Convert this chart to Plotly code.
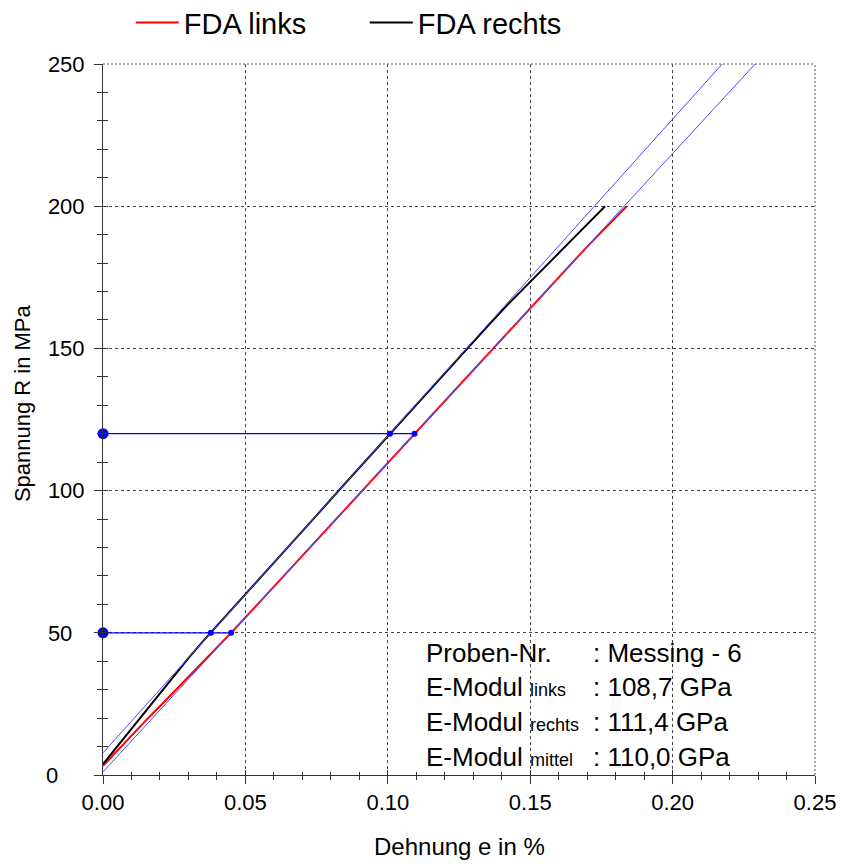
import plotly.graph_objects as go

# ---------------- data ----------------
red_x = [0.0000, 0.0050, 0.0100, 0.0150, 0.0200, 0.0250, 0.0300, 0.0350, 0.0400, 0.0452,
         0.0550, 0.0650, 0.0750, 0.0850, 0.0950, 0.1050, 0.1101, 0.1200, 0.1300, 0.1376,
         0.1450, 0.1500, 0.1600, 0.1700, 0.1800, 0.1839]
red_y = [3.2, 8.6, 13.9, 19.1, 24.2, 29.3, 34.4, 39.6, 44.8, 50.2,
         60.8, 71.7, 82.6, 93.4, 104.3, 115.2, 120.6, 131.4, 142.3, 150.5,
         158.6, 164.0, 174.9, 185.8, 196.0, 200.0]

black_x = [0.0000, 0.0050, 0.0100, 0.0150, 0.0200, 0.0250, 0.0300, 0.0350, 0.0380, 0.0450,
           0.0550, 0.0650, 0.0750, 0.0850, 0.0950, 0.1005, 0.1100, 0.1200, 0.1277, 0.1350,
           0.1420, 0.1500, 0.1600, 0.1700, 0.1763]
black_y = [3.8, 10.0, 16.2, 22.4, 28.7, 35.0, 41.1, 46.9, 50.2, 57.9,
           69.0, 80.2, 91.3, 102.5, 113.6, 119.8, 130.3, 141.5, 150.0, 157.8,
           165.3, 173.3, 183.5, 193.6, 200.0]

# regression lines: stress = intercept + slope * strain  (MPa, %)
fit_links_intercept = 1.1
fit_links_slope = 1087.0
fit_rechts_intercept = 7.8
fit_rechts_slope = 1114.0

stress_levels = [50, 120]          # evaluation stresses (MPa)

x_ticks = [0.00, 0.05, 0.10, 0.15, 0.20, 0.25]
y_ticks = [0, 50, 100, 150, 200, 250]
y_tick_text = ["0\u2002\u2002\u2009", "50\u2007", "100", "150", "200", "250"]

legend_names = ["FDA links", "FDA rechts"]
SUB = '<span style="font-size:18px">{}</span>'
info_labels = ["Proben-Nr.", "E-Modul " + SUB.format("links"), "E-Modul " + SUB.format("rechts"),
               "E-Modul " + SUB.format("mittel")]
info_values = [": Messing - 6", ": 108,7 GPa", ": 111,4 GPa", ": 110,0 GPa"]

X_MAX = 0.25
Y_MAX = 250

FONT = "Liberation Sans, Arial, sans-serif"
AXC = "#333333"

fig = go.Figure()

fig.add_trace(go.Scatter(x=red_x, y=red_y, mode="lines", name=legend_names[0],
                         line=dict(color="#ff0000", width=2)))
fig.add_trace(go.Scatter(x=black_x, y=black_y, mode="lines", name=legend_names[1],
                         line=dict(color="#000000", width=2)))

# fitted straight lines up to the top of the plot
for b, m in [(fit_links_intercept, fit_links_slope), (fit_rechts_intercept, fit_rechts_slope)]:
    x_end = (Y_MAX - b) / m
    fig.add_trace(go.Scatter(x=[0, x_end], y=[b, Y_MAX], mode="lines", showlegend=False,
                             line=dict(color="#4a4aff", width=1), hoverinfo="skip"))

# horizontal evaluation lines and markers
for s in stress_levels:
    x_l = (s - fit_links_intercept) / fit_links_slope
    x_r = (s - fit_rechts_intercept) / fit_rechts_slope
    fig.add_trace(go.Scatter(x=[0, x_l], y=[s, s], mode="lines", showlegend=False,
                             line=dict(color="#0000ff", width=1.3)))
    fig.add_trace(go.Scatter(x=[x_r, x_l], y=[s, s], mode="markers", showlegend=False,
                             marker=dict(color="#0000ff", size=6)))
    fig.add_trace(go.Scatter(x=[0], y=[s], mode="markers", showlegend=False,
                             marker=dict(color="#0000ff", size=11), cliponaxis=False))

# empty trace for overlay axes (inside tick marks)
fig.add_trace(go.Scatter(x=[None], y=[None], xaxis="x2", yaxis="y2", showlegend=False,
                         mode="lines", hoverinfo="skip"))

# info text block
line_y = [48.9, 36.9, 24.6, 12.4]
for lab, val, yy in zip(info_labels, info_values, line_y):
    fig.add_annotation(x=0.1128, y=yy, xref="x", yref="y", text=lab, showarrow=False,
                       xanchor="left", yanchor="top", font=dict(family=FONT, size=26, color="black"))
    fig.add_annotation(x=0.1715, y=yy, xref="x", yref="y", text=val, showarrow=False,
                       xanchor="left", yanchor="top", font=dict(family=FONT, size=26, color="black"))

# axis titles
fig.add_annotation(x=0.5, y=-0.101, xref="paper", yref="paper", text="Dehnung e in %",
                   showarrow=False, xanchor="center", yanchor="middle",
                   font=dict(family=FONT, size=24, color="black"))
fig.add_annotation(x=-0.1138, y=0.523, xref="paper", yref="paper", text="Spannung R in MPa",
                   showarrow=False, xanchor="center", yanchor="middle", textangle=-90,
                   font=dict(family=FONT, size=22, color="black"))

# dotted top / right frame
fig.add_shape(type="line", xref="paper", yref="paper", x0=0, x1=1, y0=1, y1=1,
              line=dict(color="#555555", width=1, dash="2px,2px"))
fig.add_shape(type="line", xref="paper", yref="paper", x0=1, x1=1, y0=0, y1=1,
              line=dict(color="#555555", width=1, dash="2px,2px"))

grid = dict(showgrid=True, gridcolor="#444444", gridwidth=1, griddash="3px,3px")

fig.update_layout(
    width=843, height=867,
    margin=dict(l=103, r=28, t=64, b=92, autoexpand=False),
    paper_bgcolor="white", plot_bgcolor="white",
    font=dict(family=FONT, size=22, color="black"),
    showlegend=True,
    legend=dict(orientation="h", x=0.039, y=1.058, xanchor="left", yanchor="middle",
                font=dict(family=FONT, size=29, color="black"),
                entrywidthmode="pixels", entrywidth=176, itemwidth=43,
                bgcolor="rgba(0,0,0,0)"),
    xaxis=dict(range=[0, X_MAX], tickvals=x_ticks, tickformat=".2f",
               ticks="outside", ticklen=8, tickcolor=AXC, tickwidth=1,
               showline=True, linecolor=AXC, linewidth=1, zeroline=False,
               minor=dict(dtick=0.01, ticks="outside", ticklen=4, tickcolor=AXC, showgrid=False),
               tickfont=dict(family=FONT, size=22, color="black"),
               **grid),
    yaxis=dict(range=[0, Y_MAX], tickvals=y_ticks, ticktext=y_tick_text,
               ticks="outside", ticklen=8, tickcolor=AXC, tickwidth=1,
               showline=True, linecolor=AXC, linewidth=1, zeroline=False,
               minor=dict(dtick=10, ticks="outside", ticklen=5, tickcolor=AXC, showgrid=False),
               tickfont=dict(family=FONT, size=22, color="black"),
               ticklabelstandoff=5,
               **grid),
    xaxis2=dict(range=[0, X_MAX], overlaying="x", anchor="y2", side="bottom",
                tickvals=x_ticks, ticks="inside", ticklen=5, tickcolor=AXC,
                showticklabels=False, showgrid=False, showline=False, zeroline=False,
                minor=dict(dtick=0.01, ticks="inside", ticklen=3, tickcolor=AXC, showgrid=False)),
    yaxis2=dict(range=[0, Y_MAX], overlaying="y", anchor="x2", side="left",
                tickvals=y_ticks, ticks="inside", ticklen=5, tickcolor=AXC,
                showticklabels=False, showgrid=False, showline=False, zeroline=False,
                minor=dict(dtick=10, ticks="inside", ticklen=5, tickcolor=AXC, showgrid=False)),
)

fig.write_html("out.html")
